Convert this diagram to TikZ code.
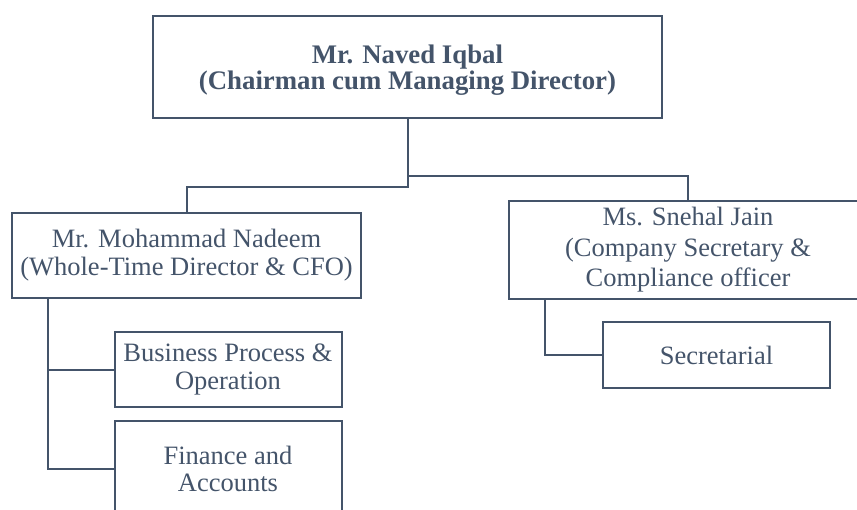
\documentclass[tikz,border=0pt]{standalone}
\usepackage{fontspec}
\setmainfont{Liberation Serif}
\definecolor{slate}{RGB}{68,84,106}
\begin{document}
\begin{tikzpicture}[x=1pt,y=-1pt,
  box/.style={draw=slate, line width=2pt, text=slate, inner sep=0pt, align=center,
    font=\fontsize{26.5}{27.5}\selectfont},
  label text/.style={text=slate, inner sep=0pt, align=center},
  conn/.style={draw=slate, line width=2pt}]
\useasboundingbox (0,0) rectangle (857,509);
\clip (0,0) rectangle (857,509);
\node[box, minimum width=509pt, minimum height=102pt] (top) at (407.5,67) {};
\node[label text, font=\fontsize{26.8}{26.5}\selectfont\bfseries] (toptext) at (407.5,70)
  {Mr. Naved Iqbal\\(Chairman cum Managing Director)};
\node[box, minimum width=349pt, minimum height=85pt] (nad) at (186.5,255)
  {Mr. Mohammad Nadeem\\(Whole-Time Director \& CFO)};
\node[box, minimum width=227pt, minimum height=75pt] (bus) at (228,369.5)
  {Business Process \&\\Operation};
\node[box, minimum width=227pt, minimum height=96pt] (fin) at (228,469)
  {Finance and\\Accounts};
\node[box, minimum width=358pt, minimum height=98pt,
  font=\fontsize{26.5}{30.5}\selectfont] (sne) at (688,250)
  {Ms. Snehal Jain\\(Company Secretary \&\\Compliance officer};
\node[box, minimum width=227pt, minimum height=66pt] (sec) at (716.5,355)
  {Secretarial};
\coordinate (lj) at (407.5,187);
\coordinate (rj) at (407.5,176);
\coordinate (nt) at (48,0);
\coordinate (st) at (545,0);
\draw[conn] (top.south) -- (lj) -| (nad.north);
\draw[conn] (rj) -| (sne.north);
\draw[conn] (nad.south -| nt) |- (bus.west);
\draw[conn] (nad.south -| nt) |- (fin.west);
\draw[conn] (sne.south -| st) |- (sec.west);
\end{tikzpicture}
\end{document}
